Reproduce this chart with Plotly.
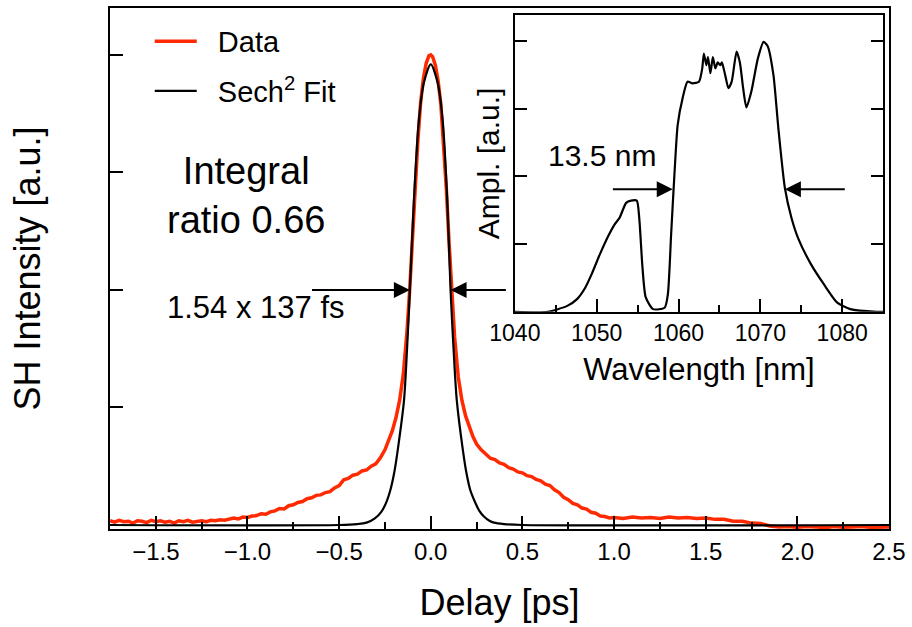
import plotly.graph_objects as go

# ---------------- main autocorrelation data ----------------
data_delay = [-1.750, -1.725, -1.700, -1.675, -1.650, -1.625, -1.600, -1.575, -1.550, -1.525,
              -1.500, -1.475, -1.450, -1.425, -1.400, -1.375, -1.350, -1.325, -1.300, -1.275,
              -1.250, -1.225, -1.200, -1.175, -1.150, -1.125, -1.100, -1.075, -1.050, -1.025,
              -1.000, -0.975, -0.950, -0.925, -0.900, -0.875, -0.850, -0.825, -0.800, -0.775,
              -0.750, -0.725, -0.700, -0.675, -0.650, -0.625, -0.600, -0.575, -0.550, -0.525,
              -0.500, -0.475, -0.450, -0.425, -0.400, -0.375, -0.350, -0.325, -0.300, -0.275,
              -0.250, -0.230, -0.210, -0.190, -0.170, -0.150, -0.130, -0.115, -0.100, -0.085,
              -0.070, -0.055, -0.040, -0.025, -0.010, 0.000, 0.010, 0.025, 0.040, 0.055,
              0.070, 0.085, 0.100, 0.115, 0.130, 0.150, 0.170, 0.190, 0.210, 0.230,
              0.250, 0.275, 0.300, 0.325, 0.350, 0.375, 0.400, 0.425, 0.450, 0.475,
              0.500, 0.525, 0.550, 0.575, 0.600, 0.625, 0.650, 0.675, 0.700, 0.725,
              0.750, 0.775, 0.800, 0.825, 0.850, 0.875, 0.900, 0.925, 0.950, 0.975,
              1.000, 1.050, 1.100, 1.150, 1.200, 1.250, 1.300, 1.350, 1.400, 1.450,
              1.500, 1.550, 1.600, 1.650, 1.700, 1.750, 1.800, 1.850, 1.900, 1.950,
              2.000, 2.050, 2.100, 2.150, 2.200, 2.250, 2.300, 2.350, 2.400, 2.450, 2.500]
data_intensity = [0.009, 0.006, 0.010, 0.007, 0.008, 0.004, 0.009, 0.008, 0.005, 0.010,
                  0.007, 0.009, 0.006, 0.008, 0.004, 0.009, 0.007, 0.010, 0.006, 0.008,
                  0.009, 0.007, 0.010, 0.009, 0.011, 0.010, 0.012, 0.015, 0.013, 0.017,
                  0.016, 0.019, 0.020, 0.024, 0.023, 0.028, 0.030, 0.035, 0.034, 0.041,
                  0.043, 0.048, 0.050, 0.056, 0.058, 0.063, 0.064, 0.069, 0.071, 0.079,
                  0.084, 0.096, 0.099, 0.106, 0.108, 0.115, 0.117, 0.125, 0.130, 0.143,
                  0.160, 0.180, 0.200, 0.228, 0.265, 0.320, 0.410, 0.500, 0.610, 0.720,
                  0.820, 0.900, 0.950, 0.982, 0.998, 1.000, 0.996, 0.978, 0.945, 0.895,
                  0.815, 0.715, 0.600, 0.490, 0.400, 0.315, 0.265, 0.232, 0.208, 0.188,
                  0.172, 0.160, 0.151, 0.142, 0.139, 0.132, 0.129, 0.122, 0.119, 0.113,
                  0.111, 0.105, 0.103, 0.097, 0.094, 0.087, 0.084, 0.075, 0.069, 0.059,
                  0.054, 0.046, 0.043, 0.036, 0.034, 0.027, 0.025, 0.019, 0.018, 0.015,
                  0.016, 0.014, 0.017, 0.015, 0.016, 0.014, 0.017, 0.015, 0.016, 0.014,
                  0.015, 0.012, 0.012, 0.008, 0.008, 0.004, 0.003, -0.002, -0.004, -0.003,
                  -0.005, -0.003, -0.004, -0.006, -0.003, -0.005, -0.004, -0.003, -0.005, -0.004, -0.004]

fit_delay = [-1.75, -0.50, -0.40, -0.35, -0.305, -0.27, -0.245, -0.22, -0.20, -0.18,
             -0.146, -0.13, -0.114, -0.092, -0.065, -0.038, 0.0, 0.038, 0.065, 0.09,
             0.108, 0.125, 0.142, 0.175, 0.195, 0.215, 0.24, 0.265, 0.29, 0.32,
             0.345, 0.40, 0.50, 2.50]
fit_intensity = [0.0, 0.0, 0.002, 0.005, 0.014, 0.028, 0.046, 0.075, 0.11, 0.16,
                 0.265, 0.37, 0.5, 0.69, 0.86, 0.94, 0.98, 0.94, 0.86, 0.69,
                 0.5, 0.37, 0.265, 0.16, 0.11, 0.075, 0.05, 0.03, 0.018, 0.009,
                 0.005, 0.002, 0.0, 0.0]

# ---------------- inset spectrum ----------------
wavelength = [1040.0, 1044.0, 1046.4, 1047.6, 1048.6, 1049.4, 1050.4, 1051.4, 1052.2, 1052.8,
              1053.6, 1054.2, 1054.9, 1055.2, 1055.6, 1056.0, 1056.9, 1058.3, 1058.7, 1059.1,
              1059.5, 1059.9, 1060.5, 1061.1, 1061.7, 1062.5, 1062.9, 1063.1, 1063.4, 1063.6,
              1063.9, 1064.2, 1064.5, 1064.8, 1065.1, 1065.3, 1065.7, 1066.1, 1066.5, 1067.1,
              1067.5, 1067.9, 1068.3, 1068.9, 1069.7, 1070.4, 1070.9, 1071.6, 1072.2, 1073.0,
              1073.8, 1074.6, 1076.2, 1077.8, 1079.4, 1081.0, 1084.2, 1085.0]
amplitude = [0.0, 0.0, 0.022, 0.047, 0.089, 0.14, 0.213, 0.279, 0.323, 0.347,
             0.402, 0.41, 0.41, 0.347, 0.163, 0.053, 0.01, 0.015, 0.065, 0.286,
             0.506, 0.69, 0.788, 0.849, 0.843, 0.849, 0.898, 0.953, 0.91, 0.94,
             0.88, 0.94, 0.898, 0.92, 0.91, 0.92, 0.874, 0.825, 0.849, 0.96,
             0.92, 0.825, 0.754, 0.8125, 0.935, 0.996, 0.98, 0.874, 0.678, 0.457,
             0.347, 0.273, 0.175, 0.10, 0.034, 0.01, 0.0, 0.0]

main_ticks = [-1.5, -1.0, -0.5, 0.0, 0.5, 1.0, 1.5, 2.0, 2.5]
main_yticks = [0.25, 0.5, 0.75, 1.0]
inset_ticks = [1040, 1050, 1060, 1070, 1080]
inset_yticks = [0.25, 0.5, 0.75, 1.0]

FONT = "Liberation Sans, Arial, Helvetica, sans-serif"
RED = "#ff2a00"
NB = "\u00a0\u00a0"

fig = go.Figure()
fig.add_trace(go.Scatter(x=data_delay, y=data_intensity, mode="lines", name=NB + "Data",
                         legendgroup="data",
                         line=dict(color=RED, width=3.5), xaxis="x", yaxis="y"))
fig.add_trace(go.Scatter(x=fit_delay, y=fit_intensity, mode="lines",
                         name=NB + "Sech<sup>2</sup> Fit", legendgroup="fit",
                         line=dict(color="black", width=2.2, shape="spline", smoothing=0.8),
                         xaxis="x", yaxis="y"))
fig.add_trace(go.Scatter(x=wavelength, y=amplitude, mode="lines", showlegend=False,
                         line=dict(color="black", width=2.2, shape="spline", smoothing=0.6),
                         xaxis="x2", yaxis="y2"))

axis_common = dict(showline=True, linecolor="black", linewidth=2, showgrid=False,
                   zeroline=False, ticks="inside", tickcolor="black", tickwidth=2)

fig.update_layout(
    width=912, height=627, autosize=False,
    margin=dict(l=110, r=17, t=6, b=98),
    paper_bgcolor="white", plot_bgcolor="white",
    font=dict(family=FONT, color="black"),
    xaxis=dict(**axis_common, range=[-1.75, 2.5], tickvals=main_ticks, tickformat=".1f",
               ticklen=13, mirror=True, tickfont=dict(size=24),
               minor=dict(dtick=0.25, ticks="inside", ticklen=7, tickwidth=2, tickcolor="black"),
               title=dict(text="Delay [ps]", font=dict(size=36), standoff=26)),
    yaxis=dict(**axis_common, range=[-0.0085, 1.0996], tickvals=main_yticks, showticklabels=False,
               ticklen=13, mirror=True,
               title=dict(text="SH Intensity [a.u.]", font=dict(size=36), standoff=56)),
    xaxis2=dict(**axis_common, domain=[0.5197, 0.9924], anchor="y2", range=[1040, 1085],
                tickvals=inset_ticks, ticklen=13, mirror=True, tickfont=dict(size=23),
                minor=dict(dtick=5, ticks="inside", ticklen=7, tickwidth=2, tickcolor="black"),
                title=dict(text="Wavelength [nm]", font=dict(size=31), standoff=13)),
    yaxis2=dict(**axis_common, domain=[0.4168, 0.9866], anchor="x2", range=[0, 1.095],
                tickvals=inset_yticks, showticklabels=False, ticklen=12, mirror="ticks",
                title=dict(text="Ampl. [a.u.]", font=dict(size=30), standoff=4)),
    legend=dict(x=0.051, y=0.985, xanchor="left", yanchor="top", bgcolor="rgba(0,0,0,0)",
                font=dict(size=29), itemwidth=42, tracegroupgap=9, traceorder="grouped"),
    showlegend=True,
)

annotations = [
    dict(x=-1.008, y=0.70, xref="x", yref="y", text="Integral<br>ratio 0.66", showarrow=False,
         font=dict(size=38), align="center"),
    dict(x=-0.951, y=0.462, xref="x", yref="y", text="1.54 x 137 fs", showarrow=False,
         font=dict(size=31)),
    dict(x=1050.7, y=0.577, xref="x2", yref="y2", text="13.5 nm", showarrow=False,
         font=dict(size=30)),
    # FWHM arrows main
    dict(x=-0.114, y=0.5, ax=-0.656, ay=0.5, xref="x", yref="y", axref="x", ayref="y",
         text="", showarrow=True, arrowhead=2, arrowsize=1.6, arrowwidth=2, arrowcolor="black"),
    dict(x=0.108, y=0.5, ax=0.418, ay=0.5, xref="x", yref="y", axref="x", ayref="y",
         text="", showarrow=True, arrowhead=2, arrowsize=1.6, arrowwidth=2, arrowcolor="black"),
    # FWHM arrows inset
    dict(x=1059.3, y=0.452, ax=1051.8, ay=0.452, xref="x2", yref="y2", axref="x2", ayref="y2",
         text="", showarrow=True, arrowhead=2, arrowsize=1.6, arrowwidth=2, arrowcolor="black"),
    dict(x=1073.0, y=0.452, ax=1080.5, ay=0.452, xref="x2", yref="y2", axref="x2", ayref="y2",
         text="", showarrow=True, arrowhead=2, arrowsize=1.6, arrowwidth=2, arrowcolor="black"),
]
fig.update_layout(annotations=annotations)

fig.write_html("out.html")
